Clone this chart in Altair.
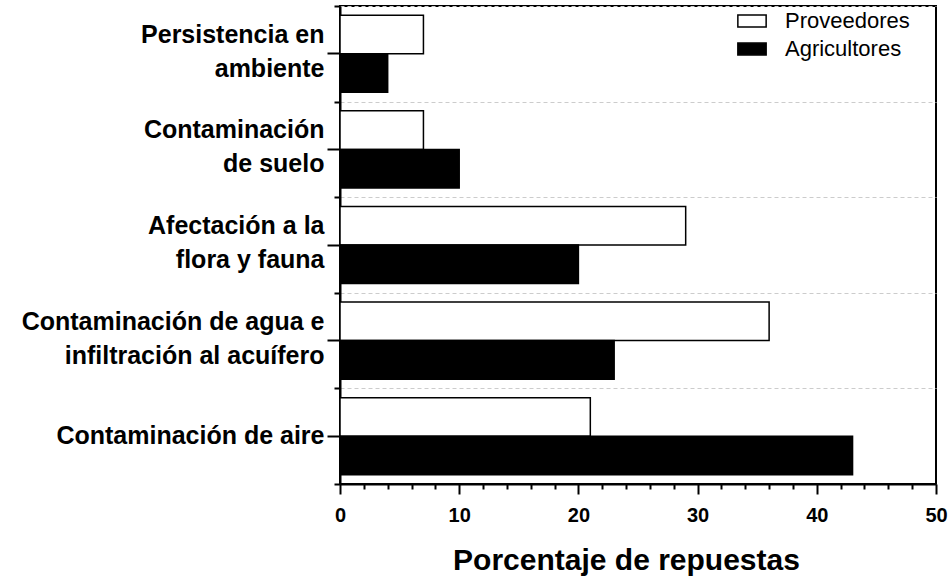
import altair as alt
import pandas as pd

categorias = [
    "Persistencia en|ambiente",
    "Contaminación|de suelo",
    "Afectación a la|flora y fauna",
    "Contaminación de agua e|infiltración al acuífero",
    "Contaminación de aire",
]
grupos = ["Proveedores", "Agricultores"]
proveedores = [7, 7, 29, 36, 21]
agricultores = [4, 10, 20, 23, 43]
x_ticks = list(range(0, 51, 2))

rows = []
for c, p, a in zip(categorias, proveedores, agricultores):
    rows.append({"categoria": c, "grupo": "Proveedores", "valor": p})
    rows.append({"categoria": c, "grupo": "Agricultores", "valor": a})
df = pd.DataFrame(rows)

FONT = "Liberation Sans"

y_scale = alt.Scale(paddingInner=0, paddingOuter=0)

bars = alt.Chart(df).mark_bar(stroke="black", strokeWidth=1.5).encode(
    x=alt.X(
        "valor:Q",
        scale=alt.Scale(domain=[0, 50], nice=False),
        axis=alt.Axis(
            values=x_ticks,
            labelExpr="datum.value % 10 === 0 ? datum.label : ''",
            tickSize={"condition": {"test": "datum.value % 10 === 0", "value": 10}, "value": 5},
            title="Porcentaje de repuestas",
            titleFont=FONT, titleFontSize=30, titleFontWeight="bold",
            titlePadding=20, titleColor="black", titleX=286, titleAlign="center",
            labelFont=FONT, labelFontSize=20, labelFontWeight="bold",
            labelColor="black", labelPadding=11, labelFlush=False,
            domainColor="black", domainWidth=2, tickColor="black", tickWidth=2,
            grid=False,
        ),
    ),
    y=alt.Y(
        "categoria:N",
        sort=categorias,
        scale=y_scale,
        axis=alt.Axis(
            title=None,
            labelExpr="split(datum.value, '|')",
            labelFont=FONT, labelFontSize=25, labelFontWeight="bold",
            labelColor="black", labelLineHeight=34, labelPadding=3,
            labelBaseline="middle", labelLimit=500,
            labelOffset={"condition": {"test": "indexof(datum.value, '|') >= 0", "value": -19}, "value": 0},
            tickSize=13, tickColor="black", tickWidth=2,
            domainColor="black", domainWidth=2, grid=False,
            orient="left",
        ),
    ),
    yOffset=alt.YOffset("grupo:N", sort=grupos, scale=alt.Scale(paddingOuter=0.24, paddingInner=0)),
    color=alt.Color(
        "grupo:N",
        sort=grupos,
        scale=alt.Scale(domain=grupos, range=["white", "black"]),
        legend=alt.Legend(
            title=None, orient="none", legendX=397, legendY=0, padding=0,
            symbolType="M-1,-0.42H1V0.42H-1Z", symbolSize=800,
            symbolStrokeColor="black", symbolStrokeWidth=1.5,
            labelFont=FONT, labelFontSize=22, labelColor="black",
            labelOffset=18, rowPadding=2,
        ),
    ),
)

minor = alt.Chart(df).mark_bar(opacity=0).encode(
    y=alt.Y(
        "categoria:N",
        sort=categorias,
        scale=y_scale,
        axis=alt.Axis(
            title=None, labels=False, domain=False, orient="left",
            tickBand="extent", tickSize=6, tickColor="black", tickWidth=2,
            grid=True, gridColor="#cccccc", gridDash=[4, 3], gridWidth=1,
        ),
    ),
)

chart = (
    alt.layer(minor, bars)
    .resolve_axis(y="independent")
    .properties(
        width=596,
        height=478,
        autosize=alt.AutoSizeParams(type="none"),
        padding={"left": 340, "top": 6, "right": 13, "bottom": 93},
    )
    .configure(background="white")
    .configure_view(stroke="black", strokeWidth=2)
)

chart.save("out.html", embed_options={"renderer": "svg", "actions": False})
